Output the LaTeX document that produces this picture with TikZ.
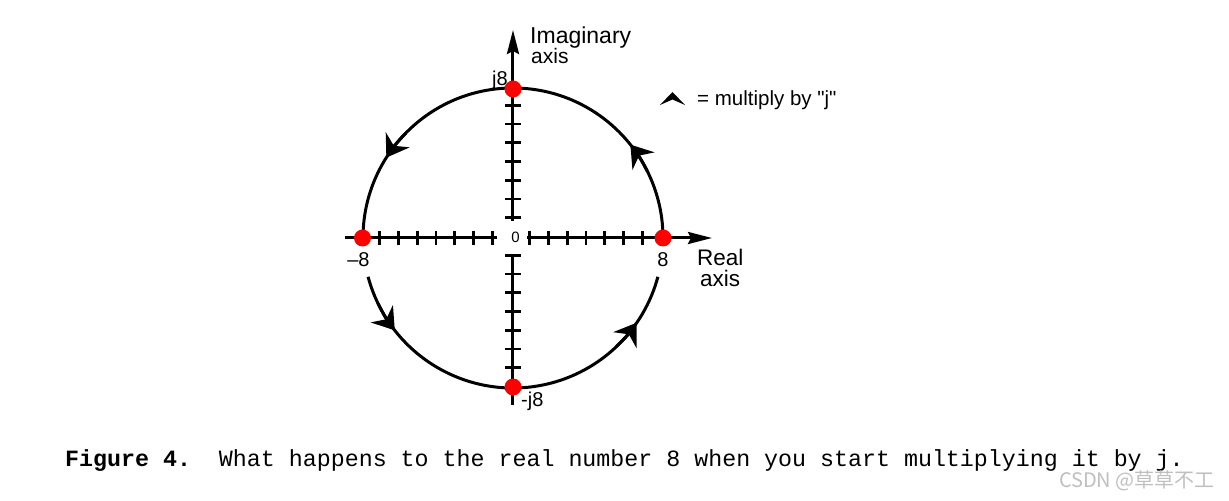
\documentclass[tikz,border=0pt]{standalone}
\usepackage{fontspec}
\setmainfont[Ligatures=TeXOff]{Liberation Sans}
\newfontfamily\capmono{Liberation Mono}
\newfontfamily\cjkwm{Noto Sans CJK SC}
\usetikzlibrary{arrows.meta}
\frenchspacing
\begin{document}
\begin{tikzpicture}[x=1bp,y=1bp,
  axisline/.style={line width=3bp},
  tickline/.style={line width=2.8bp},
  ring/.style={line width=3bp},
  axistip/.style={-{Stealth[length=24bp,width=12bp,inset=3bp]}},
  ringtip/.style={-{Stealth[length=21bp,width=28bp,inset=7bp]}},
  dot/.style={circle, fill=red, inner sep=0pt, minimum size=17bp},
  lab/.style={inner sep=0pt, font=\fontsize{20bp}{24bp}\selectfont},
  biglab/.style={inner sep=0pt, font=\fontsize{22.5bp}{27bp}\selectfont}
]
\useasboundingbox (-513,-263) rectangle (716,238);

% axis end points
\coordinate (xl) at (-168,0);
\coordinate (xlm) at (-16,0);
\coordinate (xrm) at (14,0);
\coordinate (xr) at (199,0);
\coordinate (yt) at (0,208);
\coordinate (ytm) at (0,17);
\coordinate (ybm) at (0,-16);
\coordinate (yb) at (0,-167);

\draw[axisline] (xl) -- (xlm);
\draw[axisline, axistip] (xrm) -- (xr);
\draw[axisline, axistip] (ytm) -- (yt);
\draw[axisline] (ybm) -- (yb);

% ticks
\foreach \k in {1,...,7} {
  \draw[tickline] ({18.75*\k-2},-7) -- ({18.75*\k-2},7);
  \draw[tickline] ({-18.75*\k-2},-7) -- ({-18.75*\k-2},7);
  \draw[tickline] (-8,{18.75*\k+1.5}) -- (8,{18.75*\k+1.5});
  \draw[tickline] (-8,{-18.75*\k+1.5}) -- (8,{-18.75*\k+1.5});
}

% circle (upper and lower arcs)
\draw[ring] (0:150bp) arc[start angle=0, end angle=180, radius=150bp];
\draw[ring] (195:150bp) arc[start angle=195, end angle=345, radius=150bp];

% arrowheads on the circle (counter-clockwise)
\foreach \a in {38.5,147.6,218,325.6}
  \draw[ring, ringtip] ({\a-12}:150bp) arc[start angle={\a-12}, end angle=\a, radius=150bp];

% points
\node[dot] (pR) at (0:150bp) {};
\node[dot] (pT) at (90:149bp) {};
\node[dot] (pL) at (180:150.5bp) {};
\node[dot] (pB) at (270:149bp) {};

% labels
\node[biglab, anchor=base west, font=\fontsize{23bp}{27bp}\selectfont] (imlab) at (17,194) {Imaginary};
\node[lab, anchor=base west, font=\fontsize{21bp}{25bp}\selectfont] (imaxis) at (18,174) {axis};
\node[lab, anchor=base east] (j8) at (-5,152) {j8};
\node[lab, anchor=base west] (mj8) at (8,-169) {-j8};
\node[lab, anchor=base] (m8) at (-154.5,-29) {\textendash 8};
\node[lab, anchor=base] (l8) at (150,-29) {8};
\node[lab, anchor=base, font=\fontsize{15bp}{18bp}\selectfont] (zero) at (2.5,-5) {0};
\node[biglab, anchor=base west] (reallab) at (184,-28) {Real};
\node[biglab, anchor=base west] (realaxis) at (187,-49) {axis};

% legend
\fill (159.5,146) -- (172,133) -- (159.5,138.5) -- (147,133) -- cycle;
\node[lab, anchor=base west, font=\fontsize{20.5bp}{24bp}\selectfont] (legtxt) at (184,132) {= multiply by "j"};

% caption
\node[inner sep=0pt, anchor=base west, font=\capmono\fontsize{23.3bp}{28bp}\selectfont] (cap) at (-448,-229)
  {\textbf{Figure 4.}\ \ What happens to the real number 8 when you start multiplying it by j.};

% watermark
\node[inner sep=0pt, anchor=base east, text=black!25, font=\cjkwm\fontsize{20bp}{24bp}\selectfont] (wm) at (702,-250) {CSDN @草草不工};
\end{tikzpicture}
\end{document}
